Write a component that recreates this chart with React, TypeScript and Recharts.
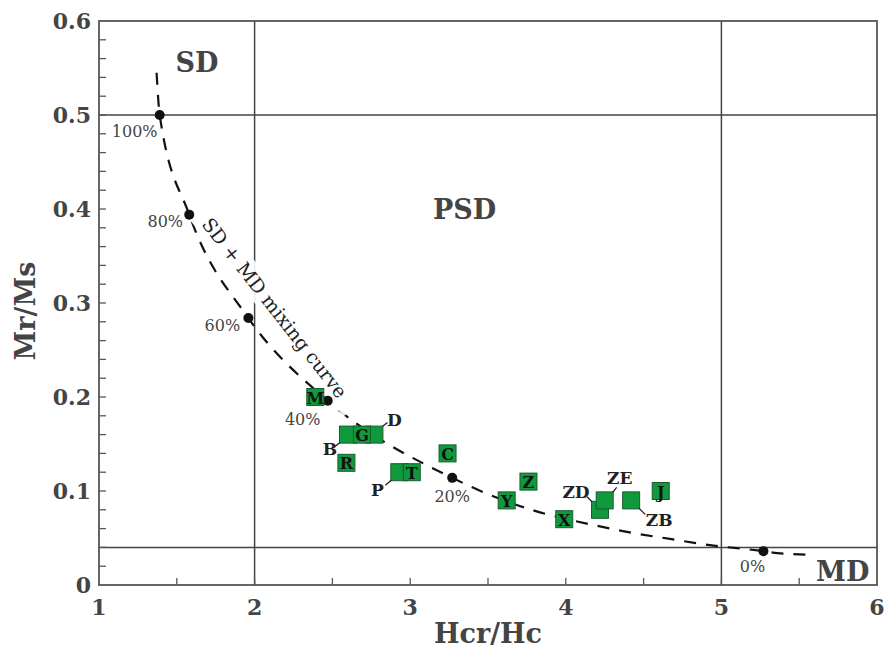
import React from 'react';
import {
  ComposedChart,
  XAxis,
  YAxis,
  Line,
  Scatter,
  ReferenceLine,
  ReferenceArea,
  ReferenceDot,
} from 'recharts';

const FONT = '"DejaVu Serif", serif';

// ---- data ----
const sampleNames = ['M', 'B', 'D', 'G', 'R', 'P', 'T', 'C', 'Y', 'Z', 'X', 'ZD', 'ZE', 'ZB', 'J'];
const sampleHcrHc = [2.39, 2.6, 2.77, 2.69, 2.59, 2.93, 3.01, 3.24, 3.62, 3.76, 3.99, 4.22, 4.25, 4.42, 4.61];
const sampleMrMs = [0.2, 0.16, 0.16, 0.16, 0.13, 0.12, 0.12, 0.14, 0.09, 0.11, 0.07, 0.08, 0.09, 0.09, 0.1];

const mixPercent = ['100%', '80%', '60%', '40%', '20%', '0%'];
const mixHcrHc = [1.39, 1.58, 1.96, 2.47, 3.27, 5.27];
const mixMrMs = [0.5, 0.394, 0.284, 0.196, 0.114, 0.036];

const curveHcrHc = [1.37, 1.39, 1.58, 1.96, 2.47, 3.27, 3.51, 3.78, 4.2, 4.44, 4.67, 4.9, 5.27, 5.36, 5.6];
const curveMrMs = [0.545, 0.5, 0.394, 0.284, 0.196, 0.114, 0.096, 0.08, 0.063, 0.055, 0.049, 0.043, 0.036, 0.034, 0.032];

const regionNames = ['SD', 'PSD', 'MD'];
const regionHcrHc = [1.63, 3.35, 5.78];
const regionMrMs = [0.556, 0.399, 0.014];

const boundaryHcrHc = [2, 5];
const boundaryMrMs = [0.5, 0.04];

const mixingLabel = 'SD + MD mixing curve';
const mixingLabelHcrHc = 2.13;
const mixingLabelMrMs = 0.295;

const xTicks = [1, 1.5, 2, 2.5, 3, 3.5, 4, 4.5, 5, 5.5, 6];
const xTickLabels = ['1', '', '2', '', '3', '', '4', '', '5', '', '6'];
const yTicks = [
  0, 0.02, 0.04, 0.06, 0.08, 0.1, 0.12, 0.14, 0.16, 0.18, 0.2, 0.22, 0.24, 0.26, 0.28, 0.3,
  0.32, 0.34, 0.36, 0.38, 0.4, 0.42, 0.44, 0.46, 0.48, 0.5, 0.52, 0.54, 0.56, 0.58, 0.6,
];
const yTickLabels: Record<string, string> = {
  '0': '0', '0.1': '0.1', '0.2': '0.2', '0.3': '0.3', '0.4': '0.4', '0.5': '0.5', '0.6': '0.6',
};

// ---- tables built from arrays ----
const samples = sampleNames.map((name, i) => ({ name, x: sampleHcrHc[i], y: sampleMrMs[i] }));
const mixPoints = mixPercent.map((name, i) => ({ name, x: mixHcrHc[i], y: mixMrMs[i] }));
const curve = curveHcrHc.map((x, i) => ({ x, y: curveMrMs[i] }));

// ---- styles (pixel offsets for annotations) ----
const outsideLabels: Record<string, { dx: number; dy: number; l: [number, number, number, number] }> = {
  B: { dx: -18, dy: 14, l: [-8, 8, -13, 12] },
  D: { dx: 20, dy: -15, l: [8, -8, 13, -12] },
  P: { dx: -22, dy: 18, l: [-8, 8, -14, 13] },
  ZD: { dx: -24, dy: -18, l: [-8, -8, -13, -13] },
  ZE: { dx: 15, dy: -22, l: [8, -8, 12, -13] },
  ZB: { dx: 28, dy: 20, l: [8, 8, 14, 14] },
};
const pctOffsets: Record<string, [number, number]> = {
  '100%': [-25, 16],
  '80%': [-24, 7],
  '60%': [-26, 7],
  '40%': [-25, 19],
  '20%': [0, 19],
  '0%': [-11, 15],
};

const GREEN = '#109a3e';
const SQ = 17;

const SampleShape = (props: any) => {
  const { cx, cy, payload } = props;
  const out = outsideLabels[payload.name];
  return (
    <g>
      <rect x={cx - SQ / 2} y={cy - SQ / 2} width={SQ} height={SQ} fill={GREEN} stroke="#1d5a2c" strokeWidth={1} />
      {!out && (
        <text x={cx} y={cy + 1} textAnchor="middle" dominantBaseline="central" fontFamily={FONT} fontWeight="bold" fontSize={16} fill="#111">
          {payload.name}
        </text>
      )}
      {out && (
        <g>
          <line x1={cx + out.l[0]} y1={cy + out.l[1]} x2={cx + out.l[2]} y2={cy + out.l[3]} stroke="#222" strokeWidth={1.3} />
          <text x={cx + out.dx} y={cy + out.dy} textAnchor="middle" dominantBaseline="central" fontFamily={FONT} fontWeight="bold" fontSize={17} fill="#222">
            {payload.name}
          </text>
        </g>
      )}
    </g>
  );
};

const MixShape = (props: any) => {
  const { cx, cy, payload } = props;
  const off = pctOffsets[payload.name] || [0, 0];
  return (
    <g>
      <circle cx={cx} cy={cy} r={5} fill="#111" />
      <text x={cx + off[0]} y={cy + off[1]} textAnchor="middle" dominantBaseline="central" fontFamily={FONT} fontSize={16} fill="#444">
        {payload.name}
      </text>
    </g>
  );
};

const YTick = (props: any) => {
  const { x, y, payload } = props;
  const v = payload.value;
  const key = String(Math.round(v * 100) / 100);
  const label = yTickLabels[key];
  return (
    <g>
      {v > 0 && v < 0.6 && <line x1={x} x2={x + 7} y1={y} y2={y} stroke="#555" strokeWidth={1.3} />}
      {label !== undefined && (
        <text x={x - 8} y={y} dy="0.36em" textAnchor="end" fontFamily={FONT} fontWeight="bold" fontSize={22} fill="#444">
          {label}
        </text>
      )}
    </g>
  );
};

const XTick = (props: any) => {
  const { x, y, payload, index } = props;
  const v = payload.value;
  const label = xTickLabels[index] ?? '';
  return (
    <g>
      {v > 1 && v < 6 && <line x1={x} x2={x} y1={y} y2={y - 7} stroke="#555" strokeWidth={1.3} />}
      {label && (
        <text x={x} y={y + 30} textAnchor="middle" fontFamily={FONT} fontWeight="bold" fontSize={22} fill="#444">
          {label}
        </text>
      )}
    </g>
  );
};

const RegionText = (name: string) => (props: any) => (
  <text x={props.cx} y={props.cy} textAnchor="middle" dominantBaseline="central" fontFamily={FONT} fontWeight="bold" fontSize={27} fill="#444">
    {name}
  </text>
);

const MixingText = (props: any) => {
  const { cx, cy } = props;
  return (
    <g transform={`translate(${cx},${cy}) rotate(52)`}>
      <rect x={-128} y={-13} width={256} height={26} fill="#ffffff" fillOpacity={0.9} />
      <text x={0} y={0} textAnchor="middle" dominantBaseline="central" fontFamily={FONT} fontSize={19} fill="#222">
        {mixingLabel}
      </text>
    </g>
  );
};

export default function App() {
  return (
    <div>
      <style>{'html,body{margin:0;padding:0;overflow:hidden;}'}</style>
      <ComposedChart width={885} height={648} margin={{ top: 21, right: 8, left: 0, bottom: 3 }}>
        <XAxis
          dataKey="x"
          type="number"
          domain={[1, 6]}
          ticks={xTicks}
          interval={0}
          axisLine={false}
          tickLine={false}
          tickSize={0}
          tickMargin={0}
          height={60}
          tick={<XTick />}
          label={{
            value: 'Hcr/Hc',
            position: 'insideBottom',
            offset: 2,
            style: { fontFamily: FONT, fontWeight: 'bold', fontSize: 27, fill: '#444' },
          }}
        />
        <YAxis
          dataKey="y"
          type="number"
          domain={[0, 0.6]}
          ticks={yTicks}
          interval={0}
          axisLine={false}
          tickLine={false}
          tickSize={0}
          tickMargin={0}
          width={99}
          tick={<YTick />}
          label={(p: any) => {
            const vb = p.viewBox || {};
            const cx = 25;
            const cy = (vb.y ?? 21) + (vb.height ?? 564) / 2 + 8;
            return (
              <text
                x={cx}
                y={cy}
                transform={`rotate(-90, ${cx}, ${cy})`}
                textAnchor="middle"
                dominantBaseline="central"
                fontFamily={FONT}
                fontWeight="bold"
                fontSize={27}
                fill="#444"
              >
                Mr/Ms
              </text>
            );
          }}
        />
        <ReferenceArea x1={1} x2={6} y1={0} y2={0.6} fill="none" stroke="#666" strokeWidth={2} />
        {boundaryHcrHc.map((v) => (
          <ReferenceLine key={'x' + v} x={v} stroke="#444" strokeWidth={1.5} />
        ))}
        {boundaryMrMs.map((v) => (
          <ReferenceLine key={'y' + v} y={v} stroke="#444" strokeWidth={1.5} />
        ))}
        <Line
          data={curve}
          dataKey="y"
          type="monotone"
          dot={false}
          stroke="#111"
          strokeWidth={2.2}
          strokeDasharray="12 10"
          isAnimationActive={false}
        />
        <ReferenceDot x={mixingLabelHcrHc} y={mixingLabelMrMs} r={0} shape={MixingText} />
        <Scatter data={mixPoints} dataKey="y" shape={<MixShape />} isAnimationActive={false} />
        <Scatter data={samples} dataKey="y" shape={<SampleShape />} isAnimationActive={false} />
        {regionNames.map((n, i) => (
          <ReferenceDot key={n} x={regionHcrHc[i]} y={regionMrMs[i]} r={0} shape={RegionText(n)} />
        ))}
      </ComposedChart>
    </div>
  );
}
